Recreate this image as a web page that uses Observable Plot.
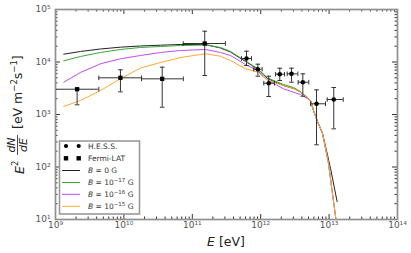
<!DOCTYPE html>
<html><head><meta charset="utf-8">
<script src="https://cdn.jsdelivr.net/npm/d3@7"></script>
<script src="https://cdn.jsdelivr.net/npm/@observablehq/plot@0.6"></script>
<style>body{margin:0;background:#fff} svg{display:block}</style>
</head><body><div id="chart"></div>
<script>
// ---- data ----
const fermiE   = [2.07e9, 8.9e9, 3.63e10, 1.52e11];
const fermiF   = [3030, 5000, 4780, 22500];
const fermiFlo = [1530, 2700, 1376, 5530];
const fermiFhi = [3150, 7100, 7960, 38600];
const fermiElo = [1e9, 4.3e9, 1.81e10, 7.37e10];
const fermiEhi = [4.3e9, 1.81e10, 7.4e10, 3.05e11];

const hessE   = [6.2e11, 9.08e11, 1.31e12, 1.90e12, 2.82e12, 4.13e12, 6.55e12, 1.17e13];
const hessF   = [11660, 7300, 3950, 5860, 5950, 4120, 1600, 1930];
const hessFlo = [8570, 5370, 2200, 4450, 4120, 2230, 265, 533];
const hessFhi = [16070, 9080, 5370, 7620, 7620, 5950, 2950, 3270];
const hessElo = [5.24e11, 7.93e11, 1.11e12, 1.65e12, 2.44e12, 3.53e12, 5.35e12, 9.38e12];
const hessEhi = [7.33e11, 1.05e12, 1.59e12, 2.23e12, 3.49e12, 5.05e12, 8.86e12, 1.61e13];

const curveE = [1.32e9, 2.32e9, 4.55e9, 8.91e9, 1.75e10, 3.43e10, 6.72e10, 1.56e11, 2.58e11, 3.61e11,
                6.0e11, 8.98e11, 1.26e12, 2.15e12, 3.02e12, 3.82e12, 5.35e12, 5.92e12, 6.77e12, 8.01e12];
const fluxB0  = [14100, 15850, 17700, 19150, 20200, 20900, 21550, 21550, 18490, 15490,
                 10230, 7360, 4850, 3570, 3130, 2680, 1850, 1190, 736, 435];
const fluxB17 = [10540, 12730, 15170, 17310, 18890, 19730, 20610, 21080, 18890, 15850,
                 10450, 7520, 4960, 3730, 3270, 2740, 1850, 1190, 736, 435];
const fluxB16 = [4120, 6310, 9250, 11510, 13300, 15170, 16560, 17310, 15170, 13300,
                 8960, 6890, 4540, 3090, 2660, 2400, 1850, 1190, 736, 435];
const fluxB15 = [1420, 1850, 2860, 4790, 7690, 9770, 12180, 14330, 12880, 10690,
                 7420, 6460, 4450, 3570, 3130, 2660, 1850, 1190, 736, 435];
const tailB0E = [9.16e12, 1.05e13, 1.31e13];
const tailB0  = [206, 93.6, 22];
const tailE   = [9.8e12, 1.08e13, 1.26e13, 1.4e13];
const tailF   = [117, 44.5, 10, 4];

const seriesNames  = ["B = 0 G", "B = 10^-17 G", "B = 10^-16 G", "B = 10^-15 G"];
const seriesBase   = ["0", "10", "10", "10"];
const seriesExp    = [null, "−17", "−16", "−15"];
const seriesColors = ["#222222", "#3aa63a", "#bf4df2", "#ffaa2e"];

const xMajor = [1e9, 1e10, 1e11, 1e12, 1e13, 1e14];
const yMajor = [1e1, 1e2, 1e3, 1e4, 1e5];

// ---- tables ----
const fermi = fermiE.map((E, i) => ({E, F: fermiF[i], lo: fermiFlo[i], hi: fermiFhi[i], elo: fermiElo[i], ehi: fermiEhi[i]}));
const hess  = hessE.map((E, i) => ({E, F: hessF[i], lo: hessFlo[i], hi: hessFhi[i], elo: hessElo[i], ehi: hessEhi[i]}));
const fluxes = [fluxB0, fluxB17, fluxB16, fluxB15];
const curves = fluxes.map((fl, s) => {
  const main = curveE.map((E, i) => ({E, F: fl[i]}));
  const tE = s === 0 ? tailB0E : tailE, tF = s === 0 ? tailB0 : tailF;
  return main.concat(tE.map((E, i) => ({E, F: tF[i]})));
});

const xMinor = [], yMinor = [];
for (let k = 9; k < 14; k++) for (let m = 2; m < 10; m++) xMinor.push(m * 10 ** k);
for (let k = 1; k < 5; k++) for (let m = 2; m < 10; m++) yMinor.push(m * 10 ** k);

const SUP = {"0":"⁰","1":"¹","2":"²","3":"³","4":"⁴","5":"⁵","6":"⁶","7":"⁷","8":"⁸","9":"⁹","-":"⁻"};
const pow = d => "10" + String(Math.round(Math.log10(d))).split("").map(c => SUP[c]).join("");

const W = 411, H = 253, mL = 55, mR = 14, mT = 9, mB = 34;
const fw = W - mL - mR, fh = H - mT - mB;
const tickC = "#333";

const hcap = {draw(c) { c.moveTo(-2.3, 0); c.lineTo(2.3, 0); }};
const vcap = {draw(c) { c.moveTo(0, -2.3); c.lineTo(0, 2.3); }};

const errMarks = (data) => [
  Plot.ruleX(data, {x: "E", y1: "lo", y2: "hi", stroke: "#333", strokeWidth: 1, clip: true}),
  Plot.ruleY(data, {y: "F", x1: "elo", x2: "ehi", stroke: "#333", strokeWidth: 1, clip: true}),
  Plot.dot(data, {x: "E", y: "lo", symbol: hcap, stroke: "#333", fill: "none", strokeWidth: 1, clip: true}),
  Plot.dot(data, {x: "E", y: "hi", symbol: hcap, stroke: "#333", fill: "none", strokeWidth: 1, clip: true}),
  Plot.dot(data, {x: "elo", y: "F", symbol: vcap, stroke: "#333", fill: "none", strokeWidth: 1, clip: true}),
  Plot.dot(data, {x: "ehi", y: "F", symbol: vcap, stroke: "#333", fill: "none", strokeWidth: 1, clip: true})
];

const svg = Plot.plot({
  width: W, height: H, marginLeft: mL, marginRight: mR, marginTop: mT, marginBottom: mB,
  x: {type: "log", domain: [1e9, 1e14], axis: null},
  y: {type: "log", domain: [10, 1e5], axis: null},
  style: {background: "#fff", fontFamily: "DejaVu Sans, sans-serif"},
  marks: [
    ...curves.map((c, s) => Plot.line(c, {x: "E", y: "F", stroke: seriesColors[s], strokeWidth: 1, clip: true})),
    ...errMarks(fermi),
    ...errMarks(hess),
    Plot.dot(fermi, {x: "E", y: "F", symbol: "square", r: 2.4, fill: "#000"}),
    Plot.dot(hess, {x: "E", y: "F", symbol: "circle", r: 2.3, fill: "#000"}),
    // ticks (inward, all four sides)
    Plot.tickX(xMajor, {x: d => d, insetTop: fh - 5, stroke: tickC}),
    Plot.tickX(xMajor, {x: d => d, insetBottom: fh - 5, stroke: tickC}),
    Plot.tickX(xMinor, {x: d => d, insetTop: fh - 2.5, stroke: tickC}),
    Plot.tickX(xMinor, {x: d => d, insetBottom: fh - 2.5, stroke: tickC}),
    Plot.tickY(yMajor, {y: d => d, insetRight: fw - 5, stroke: tickC}),
    Plot.tickY(yMajor, {y: d => d, insetLeft: fw - 5, stroke: tickC}),
    Plot.tickY(yMinor, {y: d => d, insetRight: fw - 2.5, stroke: tickC}),
    Plot.tickY(yMinor, {y: d => d, insetLeft: fw - 2.5, stroke: tickC}),
    Plot.frame({stroke: "#909090", strokeWidth: 1.7}),
    Plot.text(xMajor, {x: d => d, frameAnchor: "bottom", dy: 8, text: pow, fontSize: 9, fill: "#555"}),
    Plot.text(yMajor, {y: d => d, frameAnchor: "left", dx: -5, textAnchor: "end", text: pow, fontSize: 9, fill: "#555"})
  ]
});
document.getElementById("chart").appendChild(svg);

// ---- legend, axis labels ----
const s = d3.select(svg);
const ff = "DejaVu Sans, sans-serif";
const lg = s.append("g").attr("font-family", ff).attr("font-size", 7.5).attr("fill", "#333")
  .attr("text-anchor", "start");
lg.append("rect").attr("x", 59.5).attr("y", 141).attr("width", 80).attr("height", 73)
  .attr("fill", "#fff").attr("stroke", "#999").attr("stroke-width", 1.6);
const rows = [146, 158.3, 170.5, 182.5, 194.3, 206.3];
[66, 78.7].forEach(x => {
  lg.append("circle").attr("cx", x).attr("cy", rows[0]).attr("r", 2.1).attr("fill", "#000");
  lg.append("rect").attr("x", x - 2.2).attr("y", rows[1] - 2.2).attr("width", 4.4).attr("height", 4.4).attr("fill", "#000");
});
lg.append("text").attr("x", 88).attr("y", rows[0]).attr("dy", "0.35em").text("H.E.S.S.");
lg.append("text").attr("x", 88).attr("y", rows[1]).attr("dy", "0.35em").text("Fermi-LAT");
seriesNames.forEach((name, i) => {
  const y = rows[2 + i];
  lg.append("line").attr("x1", 62).attr("x2", 80).attr("y1", y).attr("y2", y)
    .attr("stroke", seriesColors[i]).attr("stroke-width", 1);
  const t = lg.append("text").attr("x", 88).attr("y", y).attr("dy", "0.35em");
  t.append("tspan").attr("font-style", "italic").text("B");
  t.append("tspan").text(" = " + seriesBase[i]);
  if (seriesExp[i]) {
    t.append("tspan").attr("font-size", 5.5).attr("dy", -3).text(seriesExp[i]);
    t.append("tspan").attr("dy", 3).text(" G");
  } else t.append("tspan").text(" G");
});

// x label
const xl = s.append("text").attr("x", mL + fw / 2).attr("y", 246).attr("text-anchor", "middle")
  .attr("font-family", ff).attr("font-size", 12.5).attr("fill", "#222");
xl.append("tspan").attr("font-style", "italic").text("E");
xl.append("tspan").text(" [eV]");

// y label (rotated)
const yl = s.append("g").attr("transform", "rotate(-90)").attr("font-family", ff).attr("fill", "#222")
  .attr("text-anchor", "start");
const e2 = yl.append("text").attr("x", -174).attr("y", 24).attr("font-size", 12.5);
e2.append("tspan").attr("font-style", "italic").text("E");
e2.append("tspan").attr("font-size", 8.5).attr("dy", -6).text("2");
yl.append("text").attr("x", -145).attr("y", 14.5).attr("text-anchor", "middle").attr("font-size", 11)
  .attr("font-style", "italic").text("dN");
yl.append("text").attr("x", -145).attr("y", 27).attr("text-anchor", "middle").attr("font-size", 11)
  .attr("font-style", "italic").text("dE");
yl.append("line").attr("x1", -155).attr("x2", -135).attr("y1", 17.5).attr("y2", 17.5)
  .attr("stroke", "#222").attr("stroke-width", 0.8);
const br = yl.append("text").attr("x", -129).attr("y", 22).attr("font-size", 12.5);
br.append("tspan").text("[eV m");
br.append("tspan").attr("font-size", 8.5).attr("dy", -5).text("−2");
br.append("tspan").attr("dy", 5).text("s");
br.append("tspan").attr("font-size", 8.5).attr("dy", -5).text("−1");
br.append("tspan").attr("dy", 5).text("]");
</script></body></html>
